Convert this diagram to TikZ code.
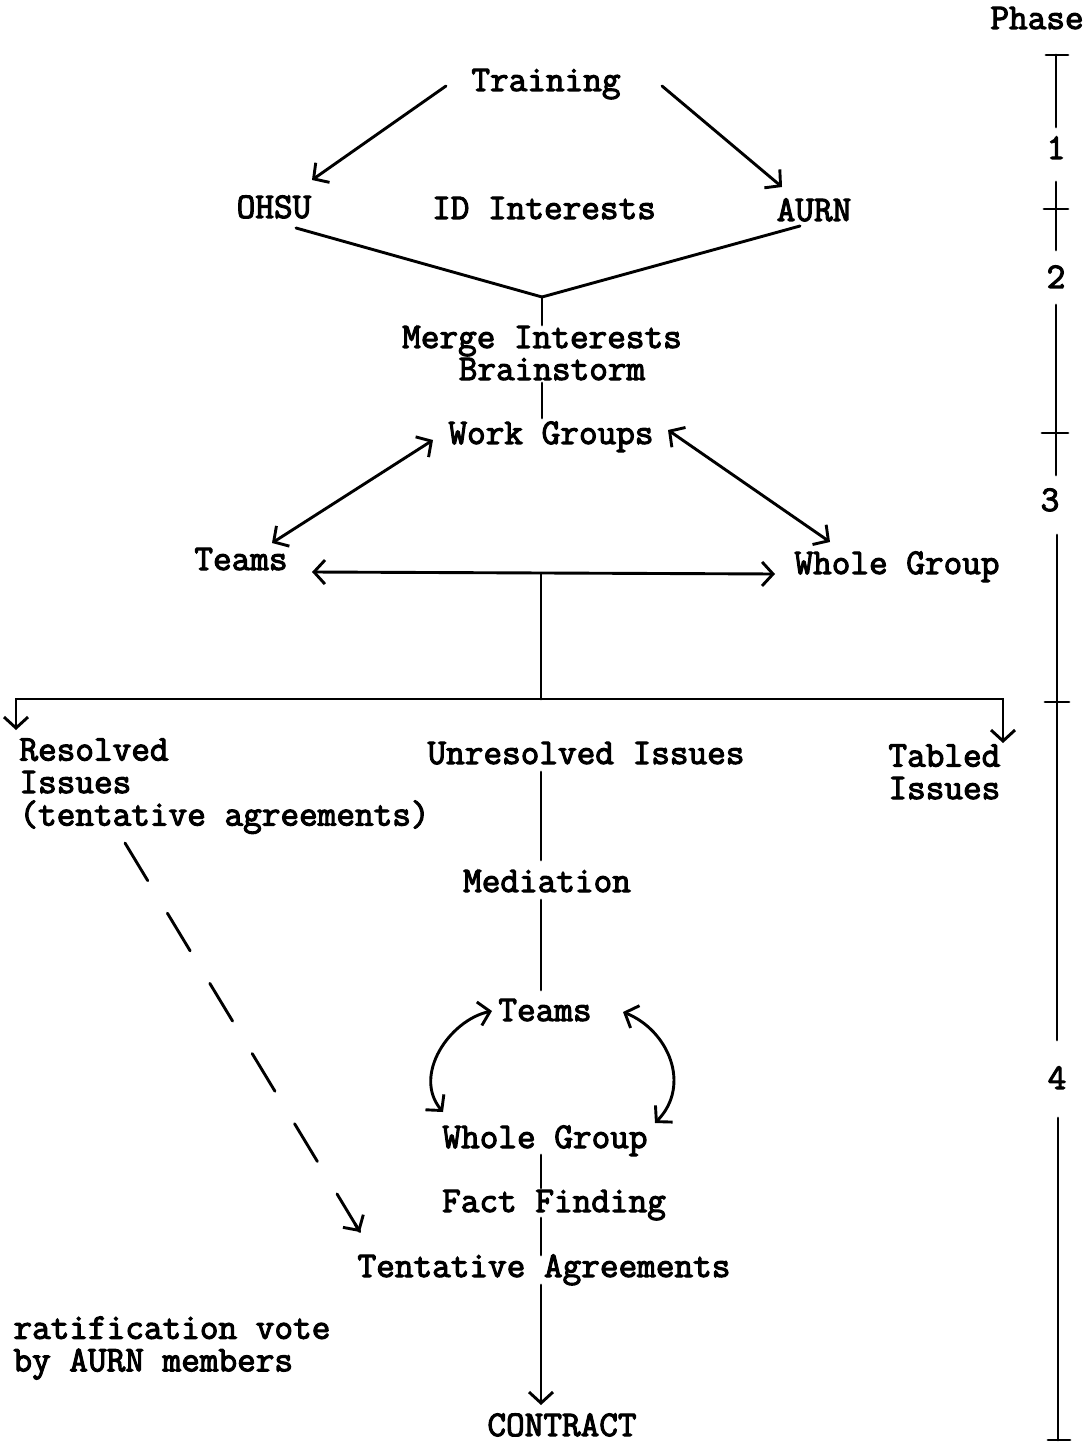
\documentclass[tikz,border=0pt]{standalone}
\usepackage{fontspec}
\newfontfamily\tw{Latin Modern Mono}[RawFeature={embolden=3}]
\usetikzlibrary{arrows.meta}
\begin{document}
\begin{tikzpicture}[x=0.5pt,y=-0.5pt,
  line width=1.45pt, line cap=round,
  txt/.style={inner sep=0pt, text height=11pt, text depth=0pt, font=\tw\fontsize{18.1}{16.25}\selectfont},
  mtxt/.style={inner sep=0pt, align=left, font=\tw\fontsize{18.1}{16.25}\selectfont},
  tip/.style={-{Straight Barb[length=5.5pt,width=12pt]}},
  both/.style={{Straight Barb[length=5.5pt,width=12pt]}-{Straight Barb[length=5.5pt,width=12pt]}},
  dashline/.style={dash pattern=on 22pt off 19pt}]
\useasboundingbox (0,0) rectangle (1088,1443);

% texts
\node[txt] (phase) at (1037,18) {Phase};
\node[txt] (train) at (546,80) {Training};
\node[txt] (ohsu) at (274,207) {OHSU};
\node[txt] (idint) at (544,208) {ID Interests};
\node[txt] (aurn) at (814,210) {AURN};
\node[txt] (merge) at (542,337) {Merge Interests};
\node[txt] (brain) at (552,369) {Brainstorm};
\node[txt] (work) at (551,433) {Work Groups};
\node[txt] (teams) at (241,559) {Teams};
\node[txt] (whole) at (897,563) {Whole Group};
\node[mtxt, anchor=north west] (res) at (18,737) {Resolved\\Issues\\(tentative agreements)};
\node[txt] (unres) at (586,753) {Unresolved Issues};
\node[mtxt, anchor=north west] (tabled) at (887,743) {Tabled\\Issues};
\node[txt] (med) at (547,881) {Mediation};
\node[txt] (teamsb) at (545,1010) {Teams};
\node[txt] (wholeb) at (545,1137) {Whole Group};
\node[txt] (fact) at (554,1201) {Fact Finding};
\node[txt] (tent) at (544,1266) {Tentative Agreements};
\node[mtxt, anchor=north west] (ratif) at (12,1315) {ratification vote\\by AURN members};
\node[txt] (contract) at (562,1425) {CONTRACT};

% phase scale
\node[txt] (p1) at (1056,148) {1};
\node[txt] (p2) at (1056,277) {2};
\node[txt] (p3) at (1050,500) {3};
\node[txt] (p4) at (1057,1078) {4};
\coordinate (s0) at (1056,55);
\coordinate (s1) at (1056,209);
\coordinate (s2) at (1056,433);
\coordinate (s3) at (1057,702);
\coordinate (s4) at (1058,1440);
\draw ([shift={(-10,0)}]s0) -- ([shift={(12,0)}]s0);
\draw (s0) -- (1056,127);
\draw (1056,182) -- (1056,250);
\draw ([shift={(-12,0)}]s1) -- ([shift={(12,0)}]s1);
\draw (1056,305) -- (1056,475);
\draw ([shift={(-14,0)}]s2) -- ([shift={(12,0)}]s2);
\draw (1057,535) -- (1057,1040);
\draw ([shift={(-12,0)}]s3) -- ([shift={(12,0)}]s3);
\draw (1058,1118) -- (s4);
\draw ([shift={(-10,0)}]s4) -- ([shift={(12,0)}]s4);

% top part
\draw[tip] ([shift={(-100,6)}]train.center) -- ([shift={(38,-27)}]ohsu.center);
\draw[tip] ([shift={(116,6)}]train.center) -- ([shift={(-32,-23)}]aurn.center);
\coordinate (j1) at (542,297);
\draw ([shift={(22,21)}]ohsu.center) -- (j1);
\draw ([shift={(-14,16)}]aurn.center) -- (j1);
\draw (j1) -- ([shift={(0,-12)}]merge.center);
\draw ([shift={(-10,14)}]brain.center) -- ([shift={(-9,-15)}]work.center);
\draw[both] ([shift={(-118,7)}]work.center) -- ([shift={(31,-16)}]teams.center);
\draw[both] ([shift={(117,-3)}]work.center) -- ([shift={(-67,-21)}]whole.center);
\draw[both] ([shift={(71,13)}]teams.center) -- ([shift={(-122,11)}]whole.center);

% split
\coordinate (j2) at (541,574);
\coordinate (split) at (541,699);
\draw (j2) -- (split);
\draw[tip] (split) -| ([shift={(-2,-7)}]res.north west);
\draw[tip] (split) -| ([shift={(116,0)}]tabled.north west);

% middle column
\draw ([shift={(-45,19)}]unres.center) -- ([shift={(-6,-21)}]med.center);
\draw ([shift={(-6,19)}]med.center) -- ([shift={(-4,-20)}]teamsb.center);
\draw[both] ([shift={(-53,1)}]teamsb.center) .. controls (450,1020) and (412,1075) .. ([shift={(-102,-25)}]wholeb.center);
\draw[both] ([shift={(78,2)}]teamsb.center) .. controls (668,1030) and (692,1085) .. ([shift={(110,-14)}]wholeb.center);
\draw ([shift={(-4,18)}]wholeb.center) -- ([shift={(-13,-13)}]fact.center);
\draw ([shift={(-13,17)}]fact.center) -- ([shift={(-3,-11)}]tent.center);
\draw[tip] ([shift={(-3,19)}]tent.center) -- ([shift={(-21,-20)}]contract.center);

% dashed
\draw[dashline] ([shift={(107,106)}]res.north west) -- ([shift={(-184,-34)}]tent.center);
\draw[tip] ([shift={(-189,-42)}]tent.center) -- ([shift={(-184,-34)}]tent.center);
\end{tikzpicture}
\end{document}
